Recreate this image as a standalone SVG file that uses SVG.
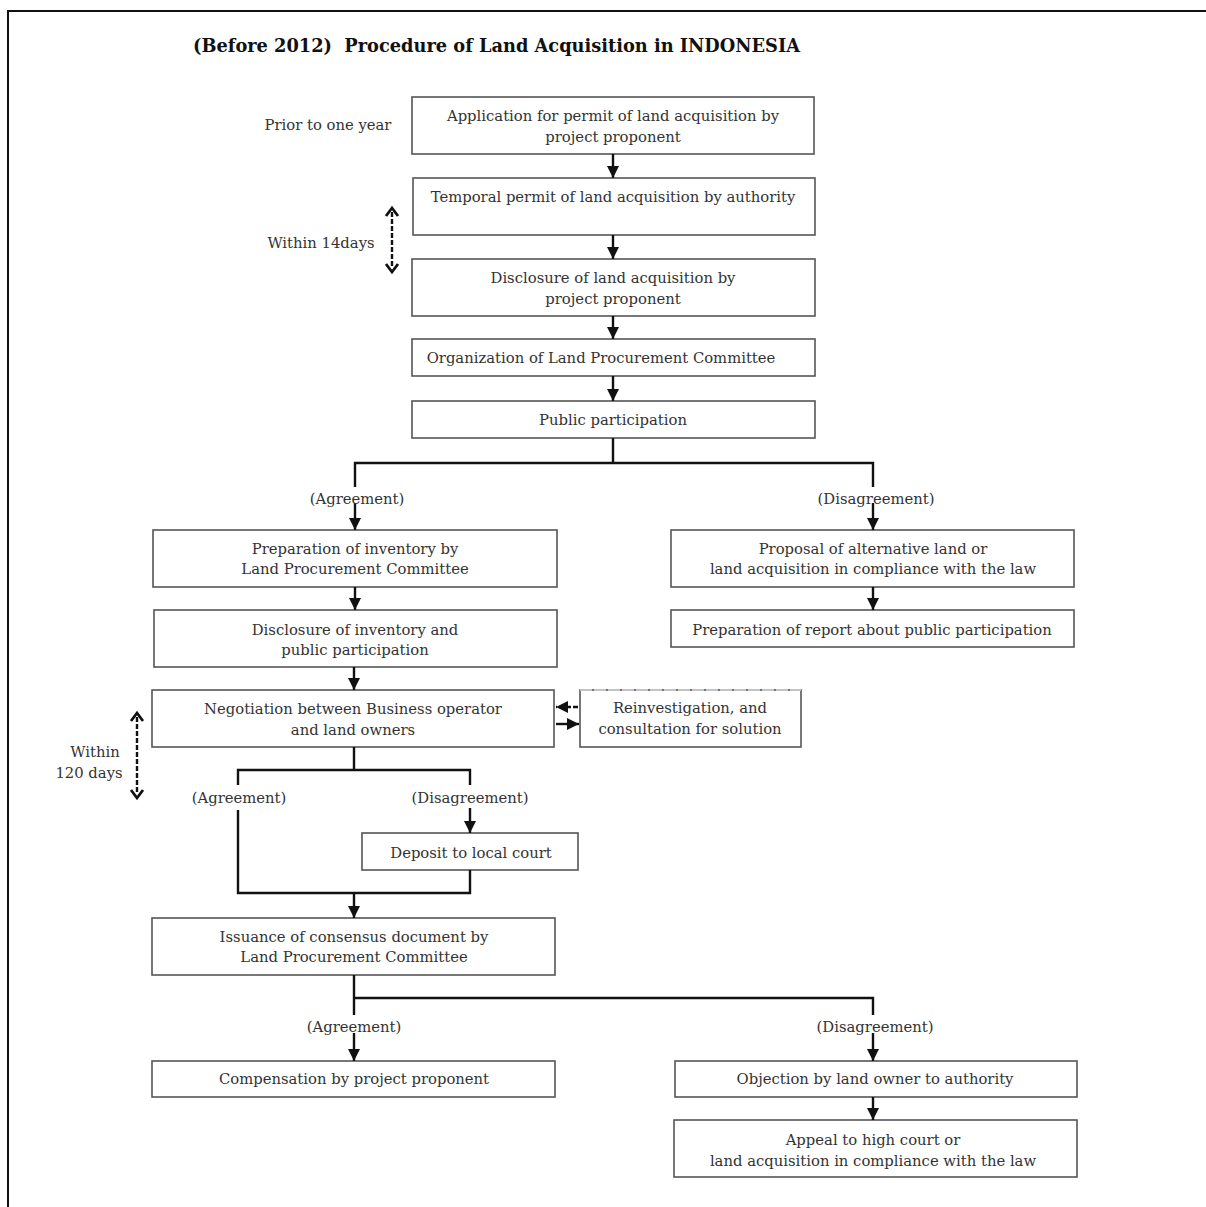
<svg xmlns="http://www.w3.org/2000/svg" width="1206" height="1207" viewBox="0 0 1206 1207">
<defs>
<style>
.box{fill:#fff;stroke:#555;stroke-width:1.6}
.t{font-family:"DejaVu Serif","Liberation Serif",serif;font-size:14.8px;fill:#333;text-anchor:middle}
.lbl{font-family:"DejaVu Serif","Liberation Serif",serif;font-size:14.8px;fill:#333;text-anchor:middle}
.ln{fill:none;stroke:#111;stroke-width:2.4}
.ar{fill:none;stroke:#111;stroke-width:2.4;marker-end:url(#ah)}
.dash{fill:none;stroke:#111;stroke-width:2.4;stroke-dasharray:5 2}
.chev{fill:none;stroke:#111;stroke-width:2.8;stroke-linejoin:miter}
.title{font-family:"DejaVu Serif","Liberation Serif",serif;font-size:18px;font-weight:bold;fill:#111}
</style>
<marker id="ah" viewBox="0 0 10 10" refX="10" refY="5" markerWidth="12" markerHeight="12" markerUnits="userSpaceOnUse" orient="auto">
<path d="M0,0 L10,5 L0,10 Z" fill="#111"/>
</marker>
</defs>
<rect width="1206" height="1207" fill="#fff"/>
<rect x="8" y="11" width="1220" height="1220" fill="none" stroke="#111" stroke-width="2"/>
<text class="title" x="193" y="52" textLength="607" lengthAdjust="spacingAndGlyphs" xml:space="preserve">(Before 2012)  Procedure of Land Acquisition in INDONESIA</text>

<g id="labels">
<text class="lbl" x="328" y="130">Prior to one year</text>
<text class="lbl" x="321" y="248">Within 14days</text>
<text class="lbl" x="95" y="757">Within</text>
<text class="lbl" x="89" y="778">120 days</text>
</g>

<g id="n1"><rect class="box" x="412" y="97" width="402" height="57"/>
<text class="t" x="613" y="121">Application for permit of land acquisition by</text>
<text class="t" x="613" y="142">project proponent</text></g>
<g id="n2"><rect class="box" x="413" y="178" width="402" height="57"/>
<text class="t" x="613" y="202">Temporal permit of land acquisition by authority</text></g>
<g id="n3"><rect class="box" x="412" y="259" width="403" height="57"/>
<text class="t" x="613" y="283">Disclosure of land acquisition by</text>
<text class="t" x="613" y="304">project proponent</text></g>
<g id="n4"><rect class="box" x="412" y="339" width="403" height="37"/>
<text class="t" x="601" y="363">Organization of Land Procurement Committee</text></g>
<g id="n5"><rect class="box" x="412" y="401" width="403" height="37"/>
<text class="t" x="613" y="425">Public participation</text></g>
<g id="n6"><rect class="box" x="153" y="530" width="404" height="57"/>
<text class="t" x="355" y="554">Preparation of inventory by</text>
<text class="t" x="355" y="574">Land Procurement Committee</text></g>
<g id="n7"><rect class="box" x="154" y="610" width="403" height="57"/>
<text class="t" x="355" y="635">Disclosure of inventory and</text>
<text class="t" x="355" y="655">public participation</text></g>
<g id="n8"><rect class="box" x="671" y="530" width="403" height="57"/>
<text class="t" x="873" y="554">Proposal of alternative land or</text>
<text class="t" x="873" y="574">land acquisition in compliance with the law</text></g>
<g id="n9"><rect class="box" x="671" y="610" width="403" height="37"/>
<text class="t" x="872" y="635">Preparation of report about public participation</text></g>
<g id="n10"><rect class="box" x="152" y="690" width="402" height="57"/>
<text class="t" x="353" y="714">Negotiation between Business operator</text>
<text class="t" x="353" y="735">and land owners</text></g>
<g id="n11"><rect class="box" x="580" y="690" width="221" height="57"/>
<line x1="580" y1="690" x2="801" y2="690" stroke="#ddd" stroke-width="1.6" stroke-dasharray="12 2"/>
<text class="t" x="690" y="713">Reinvestigation, and</text>
<text class="t" x="690" y="734">consultation for solution</text></g>
<g id="n12"><rect class="box" x="362" y="833" width="216" height="37"/>
<text class="t" x="471" y="858">Deposit to local court</text></g>
<g id="n13"><rect class="box" x="152" y="918" width="403" height="57"/>
<text class="t" x="354" y="942">Issuance of consensus document by</text>
<text class="t" x="354" y="962">Land Procurement Committee</text></g>
<g id="n14"><rect class="box" x="152" y="1061" width="403" height="36"/>
<text class="t" x="354" y="1084">Compensation by project proponent</text></g>
<g id="n15"><rect class="box" x="675" y="1061" width="402" height="36"/>
<text class="t" x="875" y="1084">Objection by land owner to authority</text></g>
<g id="n16"><rect class="box" x="674" y="1120" width="403" height="57"/>
<text class="t" x="873" y="1145">Appeal to high court or</text>
<text class="t" x="873" y="1166">land acquisition in compliance with the law</text></g>

<g id="connectors">
<line class="ar" x1="613" y1="154" x2="613" y2="178"/>
<line class="ar" x1="613" y1="235" x2="613" y2="259"/>
<line class="ar" x1="613" y1="316" x2="613" y2="339"/>
<line class="ar" x1="613" y1="376" x2="613" y2="401"/>
<polyline class="ln" points="613,438 613,463"/>
<polyline class="ln" points="355,487 355,463 873,463 873,487"/>
<line class="ar" x1="355" y1="503" x2="355" y2="530"/>
<line class="ar" x1="873" y1="503" x2="873" y2="530"/>
<line class="ar" x1="355" y1="587" x2="355" y2="610"/>
<line class="ar" x1="873" y1="587" x2="873" y2="610"/>
<line class="ar" x1="354" y1="667" x2="354" y2="690"/>
<line class="ar" x1="578" y1="707" x2="556" y2="707" stroke-dasharray="5 2"/>
<line class="ar" x1="556" y1="724" x2="579" y2="724"/>
<polyline class="ln" points="354,747 354,770"/>
<polyline class="ln" points="238,785 238,770 470,770 470,785"/>
<polyline class="ln" points="238,810 238,893 470,893 470,870"/>
<line class="ar" x1="470" y1="808" x2="470" y2="833"/>
<line class="ar" x1="354" y1="893" x2="354" y2="918"/>
<polyline class="ln" points="354,975 354,1015"/>
<polyline class="ln" points="354,998 873,998 873,1015"/>
<line class="ar" x1="354" y1="1033" x2="354" y2="1061"/>
<line class="ar" x1="873" y1="1033" x2="873" y2="1061"/>
<line class="ar" x1="873" y1="1097" x2="873" y2="1120"/>
<line class="dash" x1="392" y1="212" x2="392" y2="268"/>
<polyline class="chev" points="386,216 392,208 398,216"/>
<polyline class="chev" points="386,264 392,272 398,264"/>
<line class="dash" x1="137" y1="717" x2="137" y2="794"/>
<polyline class="chev" points="131,721 137,713 143,721"/>
<polyline class="chev" points="131,790 137,798 143,790"/>
</g>
<g id="branch-labels">
<text class="lbl" x="357" y="504">(Agreement)</text>
<text class="lbl" x="876" y="504">(Disagreement)</text>
<text class="lbl" x="239" y="803">(Agreement)</text>
<text class="lbl" x="470" y="803">(Disagreement)</text>
<text class="lbl" x="354" y="1032">(Agreement)</text>
<text class="lbl" x="875" y="1032">(Disagreement)</text>
</g>
</svg>
